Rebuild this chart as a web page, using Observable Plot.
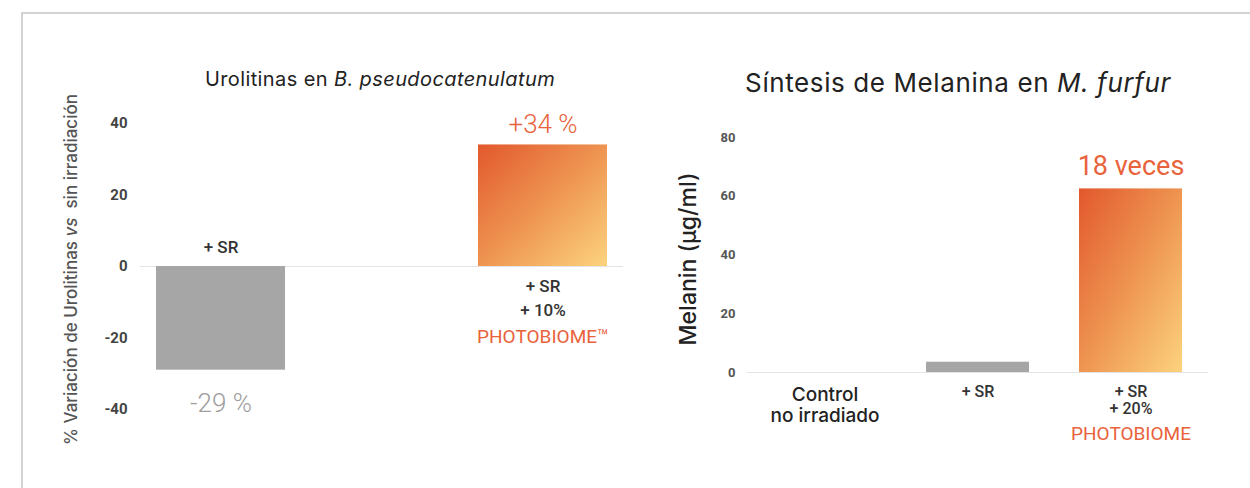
<!DOCTYPE html>
<html>
<head>
<meta charset="utf-8">
<script src="https://cdn.jsdelivr.net/npm/d3@7"></script>
<script src="https://cdn.jsdelivr.net/npm/@observablehq/plot@0.6"></script>
<style>
  body { margin: 0; background: #fff; }
  #wrap { position: relative; width: 1250px; height: 488px; overflow: hidden; background: #fff; font-family: Roboto, sans-serif; }
  #frame { position: absolute; left: 21px; top: 12px; width: 1300px; height: 600px; border-left: 2px solid #d3d3d3; border-top: 2px solid #d3d3d3; }
  .chart { position: absolute; top: 0; }
  .title { position: absolute; white-space: nowrap; font-family: Inter, sans-serif; color: #222; transform: translate(-50%, -50%); }
</style>
</head>
<body>
<div id="wrap">
  <div id="frame"></div>
  <div class="title" id="t1" style="left:380px; top:79px; font-size:20px; letter-spacing:0.4px;">Urolitinas en <i>B. pseudocatenulatum</i></div>
  <div class="title" id="t2" style="left:958px; top:82px; font-size:26px; letter-spacing:0.6px;">Síntesis de Melanina en <i>M. furfur</i></div>
  <div class="chart" id="c1" style="left:0px;"></div>
  <div class="chart" id="c2" style="left:640px;"></div>
</div>
<script>
// ---------- Left chart: Urolitinas ----------
const uroCategories = ["+ SR", "+ SR + 10% PHOTOBIOME™"];
const uroValues = [-29, 34];
const uroValueLabels = ["-29 %", "+34 %"];
const uroConditionLabels = ["+ SR", "+ SR\n+ 10%"];
const uroBrandLabels = ["", "PHOTOBIOME™"];
const uroTicks = [-40, -20, 0, 20, 40];
const uroYLabel = "% Variación de Urolitinas vs  sin irradiación";

// ---------- Right chart: Melanina ----------
const melCategories = ["Control no irradiado", "+ SR", "+ SR + 20% PHOTOBIOME"];
const melValues = [0, 3.5, 62.5];
const melConditionLabels = ["Control\nno irradiado", "+ SR", "+ SR\n+ 20%"];
const melBrandLabels = ["", "", "PHOTOBIOME"];
const melValueLabels = ["", "", "18 veces"];
const melTicks = [0, 20, 40, 60, 80];
const melYLabel = "Melanin (µg/ml)";

const ORANGE = "#e8623b";
const GRAY = "#a6a6a6";

const uro = uroCategories.map((c, i) => ({
  category: c, value: uroValues[i], valueLabel: uroValueLabels[i],
  condition: uroConditionLabels[i], brand: uroBrandLabels[i]
}));
const mel = melCategories.map((c, i) => ({
  category: c, value: melValues[i], valueLabel: melValueLabels[i],
  condition: melConditionLabels[i], brand: melBrandLabels[i]
}));

function addGradient(svg, id) {
  const defs = d3.select(svg).insert("defs", ":first-child");
  const g = defs.append("linearGradient").attr("id", id)
    .attr("x1", 0).attr("y1", 0).attr("x2", 1).attr("y2", 1);
  g.append("stop").attr("offset", "0%").attr("stop-color", "#e2582d");
  g.append("stop").attr("offset", "50%").attr("stop-color", "#ee9451");
  g.append("stop").attr("offset", "100%").attr("stop-color", "#fcd37e");
}

const left = Plot.plot({
  width: 640, height: 488,
  marginLeft: 140, marginRight: 17, marginTop: 123, marginBottom: 79,
  style: { background: "transparent", overflow: "visible" },
  x: { domain: uroCategories, paddingInner: 0.6, paddingOuter: 0.05, axis: null },
  y: { domain: [-40, 40], axis: null },
  marks: [
    Plot.ruleY([0], { stroke: "#e4e4e4", strokeWidth: 1.2 }),
    Plot.barY(uro, { filter: d => d.value < 0, x: "category", y: "value", fill: GRAY }),
    Plot.barY(uro, { filter: d => d.value >= 0, x: "category", y: "value", fill: "url(#gradUro)" }),
    Plot.axisY({ ticks: uroTicks, tickSize: 0, tickPadding: 13, tickFormat: d => String(d),
      fontSize: 15, fontWeight: 700, fill: "#444", fontFamily: "Roboto", label: null }),
    Plot.text([uroYLabel], { text: d => d, frameAnchor: "left", textAnchor: "middle", rotate: -90, dx: -69, dy: 3,
      fontSize: 17, fontWeight: 500, fill: "#555", fontFamily: "Inter" }),
    // condition labels
    Plot.text(uro, { filter: d => d.value < 0, x: "category", y: d => 0, text: "condition",
      dy: -19, fontSize: 17, fontWeight: 500, fill: "#333", fontFamily: "Roboto" }),
    Plot.text(uro, { filter: d => d.value >= 0, x: "category", y: d => 0, text: "condition",
      dy: 30, lineHeight: 1.4, fontSize: 17, fontWeight: 500, fill: "#333", fontFamily: "Roboto" }),
    Plot.text(uro, { filter: d => d.brand, x: "category", y: d => 0, text: "brand",
      dy: 70, fontSize: 19, fill: ORANGE, fontFamily: "Roboto" }),
    // value labels
    Plot.text(uro, { filter: d => d.value < 0, x: "category", y: "value", text: "valueLabel",
      dy: 33, fontSize: 26, fontWeight: 300, fill: "#9e9e9e", fontFamily: "Roboto" }),
    Plot.text(uro, { filter: d => d.value >= 0, x: "category", y: "value", text: "valueLabel",
      dy: -20, fontSize: 26, fontWeight: 300, fill: ORANGE, fontFamily: "Roboto" })
  ]
});
addGradient(left, "gradUro");
d3.select(left).selectAll("text").each(function () {
  if (this.textContent === uroYLabel) {
    const t = d3.select(this).style("white-space", "pre");
    t.text(null);
    t.append("tspan").text("% Variación de Urolitinas ");
    t.append("tspan").attr("font-style", "italic").text("vs");
    t.append("tspan").text("  sin irradiación");
  }
});
document.getElementById("c1").append(left);

const right = Plot.plot({
  width: 610, height: 488,
  marginLeft: 107, marginRight: 42, marginTop: 137, marginBottom: 116,
  style: { background: "transparent", overflow: "visible" },
  x: { domain: melCategories, paddingInner: 0.33, paddingOuter: 0.165, axis: null },
  y: { domain: [0, 80], axis: null },
  marks: [
    Plot.ruleY([0], { stroke: "#e4e4e4", strokeWidth: 1.2 }),
    Plot.barY(mel, { filter: d => d.brand === "" && d.value > 0, x: "category", y: "value", fill: GRAY }),
    Plot.barY(mel, { filter: d => d.brand !== "", x: "category", y: "value", fill: "url(#gradMel)" }),
    Plot.axisY({ ticks: melTicks, tickSize: 0, tickPadding: 12, tickFormat: d => String(d),
      fontSize: 13, fontWeight: 700, fill: "#555", fontFamily: "Roboto", label: null }),
    Plot.text([melYLabel], { text: d => d, frameAnchor: "left", textAnchor: "middle", rotate: -90, dx: -59, dy: 4,
      fontSize: 23, fontWeight: 500, fill: "#222", fontFamily: "Inter" }),
    // category labels
    Plot.text(mel, { filter: d => d.value === 0, x: "category", y: d => 0, text: "condition",
      lineAnchor: "top", dy: 14, lineHeight: 1.1, fontSize: 19, fontWeight: 500, fill: "#222", fontFamily: "Inter" }),
    Plot.text(mel, { filter: d => d.value > 0, x: "category", y: d => 0, text: "condition",
      lineAnchor: "top", dy: 12, lineHeight: 1.07, fontSize: 16, fontWeight: 500, fill: "#333", fontFamily: "Roboto" }),
    Plot.text(mel, { filter: d => d.brand, x: "category", y: d => 0, text: "brand",
      dy: 61, fontSize: 19, fill: ORANGE, fontFamily: "Roboto" }),
    Plot.text(mel, { filter: d => d.valueLabel, x: "category", y: "value", text: "valueLabel",
      dy: -23, fontSize: 27, fill: ORANGE, fontFamily: "Roboto", style: "letter-spacing:0.5px" })
  ]
});
addGradient(right, "gradMel");
document.getElementById("c2").append(right);
</script>
</body>
</html>
